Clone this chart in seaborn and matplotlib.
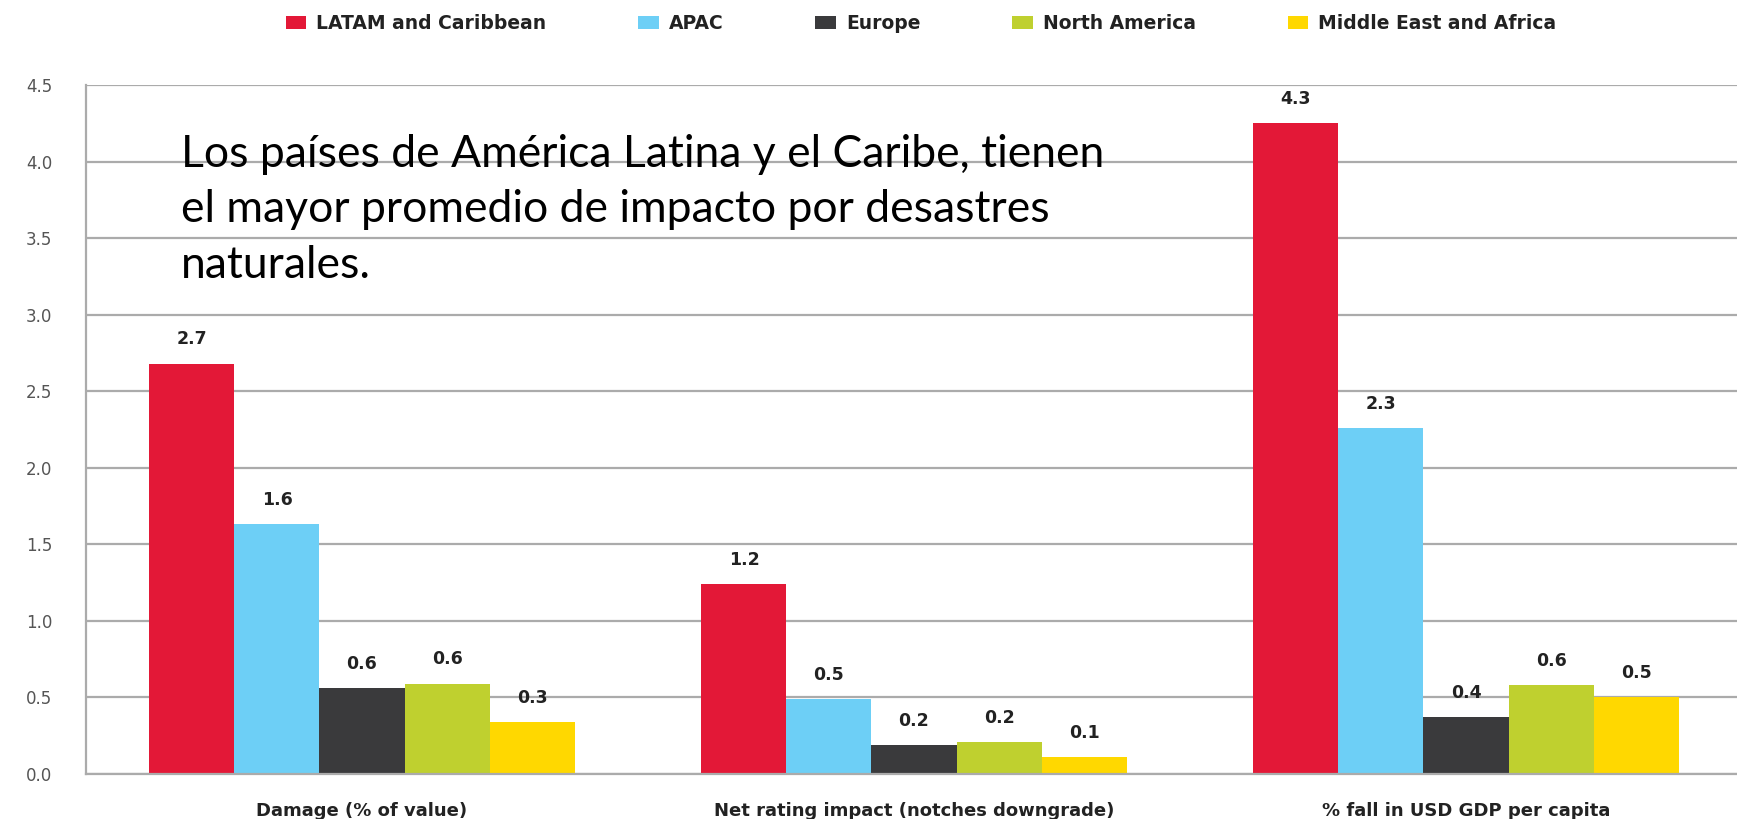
import matplotlib
matplotlib.use("Agg")
import matplotlib.pyplot as plt
import seaborn as sns
import pandas as pd
from matplotlib.ticker import FixedLocator

# ---- data ----
metrics = ["Damage (% of value)", "Net rating impact (notches downgrade)", "% fall in USD GDP per capita"]
regions = ["LATAM and Caribbean", "APAC", "Europe", "North America", "Middle East and Africa"]
latam = [2.68, 1.24, 4.25]
apac = [1.63, 0.49, 2.26]
europe = [0.56, 0.19, 0.37]
north_america = [0.59, 0.21, 0.58]
mea = [0.34, 0.11, 0.50]
latam_lbl = ["2.7", "1.2", "4.3"]
apac_lbl = ["1.6", "0.5", "2.3"]
europe_lbl = ["0.6", "0.2", "0.4"]
na_lbl = ["0.6", "0.2", "0.6"]
mea_lbl = ["0.3", "0.1", "0.5"]
colors = ["#E31837", "#6DCFF6", "#3A3A3C", "#BFD02F", "#FFD800"]
yticks = [0.0, 0.5, 1.0, 1.5, 2.0, 2.5, 3.0, 3.5, 4.0, 4.5]
note = "Los países de América Latina y el Caribe, tienen\nel mayor promedio de impacto por desastres\nnaturales."

series = [latam, apac, europe, north_america, mea]
labels = [latam_lbl, apac_lbl, europe_lbl, na_lbl, mea_lbl]
rows = []
for reg, vals in zip(regions, series):
    for m, v in zip(metrics, vals):
        rows.append({"metric": m, "region": reg, "value": v})
df = pd.DataFrame(rows)

sns.set_style("white")
plt.rcParams["font.family"] = ["DejaVu Sans"]

W, H = 1737, 819
fig = plt.figure(figsize=(W / 100, H / 100), dpi=100)
ax = fig.add_axes([86 / W, (H - 774) / H, (1742 - 86) / W, (774 - 85) / H])

sns.barplot(data=df, x="metric", y="value", hue="region", order=metrics,
            hue_order=regions, palette=colors, width=0.77, saturation=1,
            linewidth=0, ax=ax)

ax.set_xlim(-0.5, 2.5)
ax.set_ylim(0, 4.5)
ax.set_yticks(yticks)
ax.set_yticklabels([f"{t:.1f}" for t in yticks])
ax.set_xlabel("")
ax.set_ylabel("")

gridc = "#ababab"
ax.yaxis.grid(True, color=gridc, linewidth=1.6)
ax.xaxis.grid(False)
ax.set_axisbelow(True)
for s in ["top", "right"]:
    ax.spines[s].set_visible(False)
for s in ["left", "bottom"]:
    ax.spines[s].set_color(gridc)
    ax.spines[s].set_linewidth(1.6)

ax.tick_params(axis="y", length=9.4, width=1.6, color=gridc, pad=15,
               labelsize=12, labelcolor="#555555")
ax.tick_params(axis="x", which="major", length=0, pad=20, labelsize=13,
               labelcolor="#222222")
for t in ax.get_xticklabels():
    t.set_fontweight("bold")
ax.xaxis.set_minor_locator(FixedLocator([-0.5, 0.5, 1.5]))
ax.tick_params(axis="x", which="minor", length=6, width=1.6, color=gridc)

for cont, lbl in zip(ax.containers, labels):
    ax.bar_label(cont, labels=lbl, padding=11, fontsize=12.5, fontweight="bold",
                 color="#222222")

handles, labs = ax.get_legend_handles_labels()
if ax.get_legend() is not None:
    ax.get_legend().remove()
fig.legend(handles, labs, loc="center", bbox_to_anchor=(921 / W, 1 - 23.5 / H),
           ncol=5, frameon=False, prop={"weight": "bold", "size": 13.5},
           labelcolor="#222222", handlelength=1.1, handleheight=0.7,
           handletextpad=0.53, columnspacing=4.9, borderaxespad=0)

fig.text(181 / W, 1 - 278 / H, note, fontsize=32, family=["Lato", "DejaVu Sans"],
         color="black", va="baseline", ha="left", linespacing=1.445)

fig.savefig("out.png", dpi=100, facecolor="white")
